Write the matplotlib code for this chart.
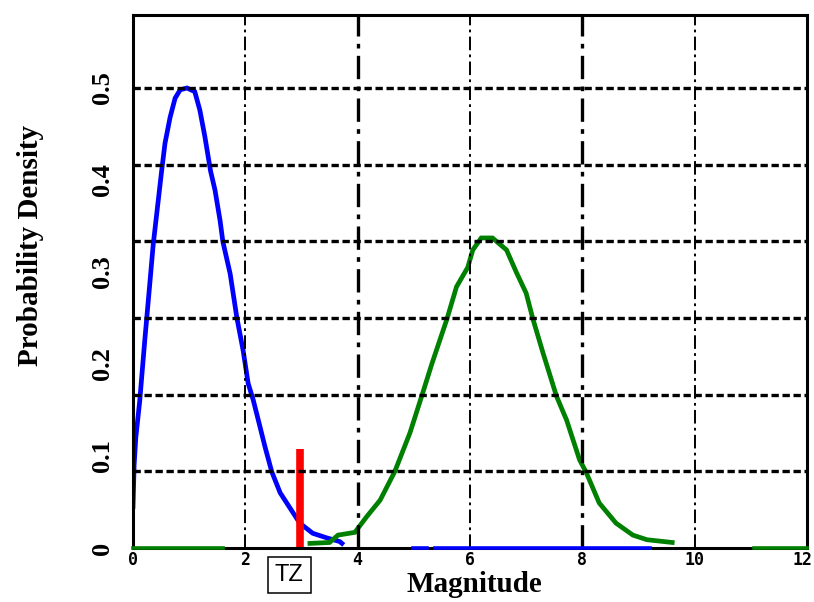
import numpy as np
import matplotlib
matplotlib.use('Agg')
import matplotlib.pyplot as plt
import matplotlib.transforms as mtransforms

# magnitude distribution of the two classes
blue_x = [0, 0.02, 0.05, 0.12, 0.21, 0.3, 0.36, 0.45, 0.51, 0.57, 0.66, 0.75, 0.84, 0.96,
          1.1, 1.19, 1.28, 1.38, 1.46, 1.55, 1.6, 1.73, 1.85, 1.96, 2.05, 2.14, 2.26, 2.35,
          2.47, 2.62, 2.8, 2.97, 3.2, 3.45, 3.68, 3.72]
blue_y = [0.045, 0.09, 0.12, 0.16, 0.226, 0.288, 0.33, 0.378, 0.41, 0.44, 0.468, 0.489, 0.498, 0.5,
          0.496, 0.476, 0.447, 0.41, 0.389, 0.356, 0.333, 0.298, 0.25, 0.215, 0.179, 0.161, 0.132, 0.11,
          0.083, 0.06, 0.043, 0.027, 0.016, 0.011, 0.007, 0.005]

green_x = [3.15, 3.5, 3.65, 3.95, 4.16, 4.4, 4.66, 4.93, 5.14, 5.32, 5.59, 5.76, 5.96, 6.05, 6.2,
           6.4, 6.65, 6.83, 7.0, 7.12, 7.3, 7.54, 7.72, 7.95, 8.07, 8.3, 8.6, 8.9, 9.15, 9.6]
green_y = [0.005, 0.006, 0.014, 0.017, 0.034, 0.052, 0.083, 0.125, 0.165, 0.2, 0.249, 0.284, 0.305,
           0.324, 0.337, 0.337, 0.324, 0.299, 0.277, 0.249, 0.212, 0.165, 0.139, 0.096, 0.082, 0.049,
           0.027, 0.014, 0.009, 0.006]

# zero-density stretches drawn along the axis
blue_zero = [(4.98, 5.23), (5.37, 9.2)]
green_zero = [(0, 1.6), (11.06, 12)]

# transition zone marker
tz_x = 2.98
tz_height = 0.108
tz_label_x = 2.78

x_ticks = [0, 2, 4, 6, 8, 10, 12]
y_ticks = [0, 0.1, 0.2, 0.3, 0.4, 0.5]
y_tick_labels = ['0', '0.1', '0.2', '0.3', '0.4', '0.5']
y_grid = [i / 12 for i in range(1, 7)]

serif = 'Liberation Serif'

fig = plt.figure(figsize=(8.14, 6.02), dpi=100)
ax = fig.add_axes([133 / 814, 54 / 602, 674 / 814, 533 / 602])

ax.plot(blue_x, blue_y, color='#0000ff', lw=3.4, zorder=2, solid_joinstyle='miter')
ax.plot(green_x, green_y, color='#008000', lw=3.4, zorder=2, solid_joinstyle='miter')
for a, b in blue_zero:
    ax.plot([a, b], [0, 0], color='#0000ff', lw=2.6, zorder=6, clip_on=False)
for a, b in green_zero:
    ax.plot([a, b], [0, 0], color='#008000', lw=2.6, zorder=6, clip_on=False)

ax.vlines(tz_x, 0, tz_height, color='#ff0000', lw=5.5, zorder=2)

# grid on top of the curves
for gy in y_grid:
    ax.axhline(gy, color='black', lw=2.4, linestyle=(0, (2.2, 1.1)), zorder=3)
for gx in [2, 4, 6, 8, 10]:
    w = 2.4 if gx in (4, 8) else 1.4
    ax.axvline(gx, color='black', lw=w, linestyle=(0, (7, 2.2, 1.4, 2.2)), zorder=3)

ax.set_xlim(0, 12)
ax.set_ylim(0, 533 / 920)

ax.set_xticks(x_ticks)
ax.set_xticklabels([str(t) for t in x_ticks], fontfamily='DejaVu Sans Mono',
                   fontweight='bold', fontsize=12)
ax.set_yticks(y_ticks)
ax.set_yticklabels(y_tick_labels, fontfamily=serif, fontweight='bold', fontsize=19,
                   rotation=90, va='center')
ax.tick_params(axis='both', length=0)
ax.tick_params(axis='x', pad=2.5)
ax.tick_params(axis='y', pad=14)

# keep the last x label inside the figure
last = ax.get_xticklabels()[-1]
last.set_transform(last.get_transform() + mtransforms.ScaledTranslation(-4 / 100, 0, fig.dpi_scale_trans))

for s in ax.spines.values():
    s.set_linewidth(2.2)
    s.set_zorder(5)

ax.set_xlabel('Magnitude', fontfamily=serif, fontweight='bold', fontsize=21, va='top')
ax.xaxis.set_label_coords(0.506, -0.0435)
ax.set_ylabel('Probability Density', fontfamily=serif, fontweight='bold', fontsize=21, va='center')
ax.yaxis.set_label_coords(-0.152, 0.568)

ax.annotate('TZ', xy=(tz_label_x, 0), xycoords='data', xytext=(0, -19.5),
            textcoords='offset points', ha='center', va='center',
            fontfamily='Liberation Sans', fontsize=17, annotation_clip=False,
            bbox=dict(boxstyle='square,pad=0.3', fc='white', ec='black', lw=1.1))

fig.savefig('out.png', dpi=100)
